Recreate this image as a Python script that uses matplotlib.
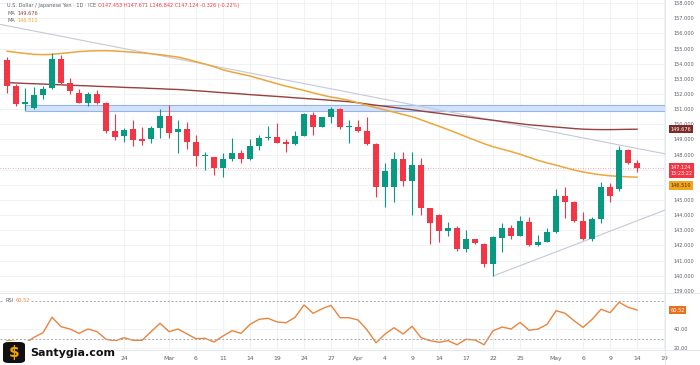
import numpy as np
import pandas as pd
import matplotlib
matplotlib.use("Agg")
import matplotlib.pyplot as plt
from matplotlib.patches import Rectangle, FancyBboxPatch

# daily USD/JPY candles, Feb 5 - May 14 2025 (weekdays)
dates = pd.bdate_range("2025-02-05", "2025-05-14")

opens = [154.25, 152.55, 151.35, 151.05, 151.92, 152.42, 154.31, 152.71, 152.09, 151.39,
         151.98, 151.39, 149.58, 149.25, 149.67, 149.03, 149.00, 149.78, 150.55, 149.47,
         149.67, 148.81, 147.93, 147.82, 147.09, 147.69, 148.12, 147.69, 148.59, 149.12,
         149.18, 148.83, 148.70, 149.25, 150.61, 149.84, 150.46, 151.01, 149.84, 149.84,
         149.58, 148.68, 145.88, 145.88, 147.69, 146.26, 147.31, 144.45, 144.00, 142.95,
         143.17, 141.74, 142.40, 142.09, 140.77, 142.51, 143.13, 142.64, 143.53, 142.03,
         142.25, 142.91, 145.26, 144.89, 143.63, 142.40, 143.74, 145.88, 145.71, 148.30,
         147.453]
highs = [154.45, 152.65, 152.40, 152.48, 152.50, 154.69, 154.58, 153.08, 152.31, 152.15,
         152.27, 151.45, 150.68, 149.75, 150.28, 149.84, 149.88, 151.01, 151.27, 150.28,
         150.13, 149.29, 148.19, 147.85, 148.08, 149.08, 148.30, 149.00, 149.29, 149.89,
         150.11, 149.05, 149.55, 150.77, 150.83, 150.50, 151.16, 151.05, 150.28, 150.28,
         150.46, 148.75, 147.42, 148.15, 148.15, 148.19, 147.80, 144.50, 144.05, 143.57,
         143.28, 143.02, 142.45, 142.15, 142.62, 143.50, 143.33, 143.96, 143.86, 142.69,
         143.17, 145.71, 145.88, 144.95, 144.23, 143.85, 146.21, 146.15, 148.57, 148.35,
         147.671]
lows = [152.10, 151.20, 150.95, 150.98, 151.65, 152.30, 152.65, 151.98, 151.40, 151.20,
        151.36, 149.41, 148.96, 148.85, 148.57, 148.63, 148.75, 149.11, 149.11, 148.12,
        148.39, 147.27, 146.98, 146.65, 146.54, 147.60, 147.42, 147.65, 148.30, 148.95,
        148.76, 148.19, 148.62, 149.20, 149.29, 149.80, 150.07, 149.67, 148.75, 149.50,
        148.65, 145.18, 144.56, 144.85, 145.92, 144.00, 144.00, 142.09, 142.25, 142.64,
        141.62, 141.60, 142.10, 140.60, 139.98, 141.59, 142.45, 142.60, 141.98, 141.95,
        142.20, 142.85, 143.79, 143.55, 142.35, 142.30, 143.46, 144.85, 145.60, 147.40,
        146.842]
closes = [152.55, 151.35, 151.45, 151.94, 152.33, 154.31, 152.71, 152.20, 151.43, 151.98,
          151.39, 149.56, 149.18, 149.62, 148.96, 148.92, 149.78, 150.55, 149.45, 149.67,
          148.81, 147.93, 147.97, 147.13, 147.69, 148.12, 147.69, 148.59, 149.08, 149.16,
          148.78, 148.72, 149.25, 150.66, 149.84, 150.46, 151.01, 149.80, 149.86, 149.58,
          148.68, 145.88, 146.92, 147.69, 146.26, 147.31, 144.45, 143.46, 142.95, 143.17,
          141.76, 142.40, 142.14, 140.77, 142.58, 143.13, 142.64, 143.61, 142.03, 142.25,
          142.91, 145.26, 144.89, 143.63, 142.40, 143.74, 145.84, 145.28, 148.30, 147.42,
          147.124]

ma_long = [152.75, 152.73, 152.70, 152.68, 152.66, 152.63, 152.61, 152.58, 152.56, 152.54,
           152.51, 152.49, 152.47, 152.44, 152.42, 152.40, 152.37, 152.35, 152.32, 152.30,
           152.26, 152.22, 152.18, 152.13, 152.09, 152.05, 152.01, 151.96, 151.92, 151.88,
           151.84, 151.80, 151.75, 151.71, 151.67, 151.63, 151.58, 151.54, 151.49, 151.42,
           151.34, 151.26, 151.19, 151.11, 151.03, 150.96, 150.88, 150.80, 150.73, 150.65,
           150.57, 150.50, 150.42, 150.34, 150.27, 150.19, 150.12, 150.04, 149.97, 149.92,
           149.87, 149.82, 149.77, 149.72, 149.68, 149.66, 149.65, 149.65, 149.66, 149.67,
           149.676]
ma_short = [154.83, 154.75, 154.68, 154.62, 154.60, 154.62, 154.68, 154.74, 154.80, 154.84,
            154.86, 154.86, 154.84, 154.80, 154.76, 154.72, 154.66, 154.60, 154.52, 154.44,
            154.30, 154.14, 153.98, 153.80, 153.60, 153.45, 153.32, 153.19, 153.02, 152.85,
            152.68, 152.52, 152.38, 152.23, 152.08, 151.93, 151.80, 151.70, 151.58, 151.42,
            151.25, 151.10, 150.95, 150.80, 150.65, 150.50, 150.30, 150.08, 149.87, 149.65,
            149.42, 149.18, 148.95, 148.72, 148.52, 148.36, 148.20, 148.02, 147.82, 147.62,
            147.45, 147.30, 147.14, 146.98, 146.85, 146.75, 146.66, 146.60, 146.56, 146.53,
            146.51]
rsi = [28.0, 27.0, 25.1, 31.5, 36.4, 52.8, 42.8, 40.3, 35.7, 40.3,
       37.5, 29.4, 27.6, 31.1, 28.3, 28.3, 37.5, 46.4, 37.5, 40.3,
       35.0, 30.0, 30.4, 26.5, 32.9, 38.5, 35.7, 45.3, 50.6, 51.7,
       47.8, 47.0, 52.8, 65.9, 57.0, 61.9, 65.5, 52.3, 52.3, 49.9,
       39.3, 25.7, 35.0, 41.7, 35.0, 43.2, 31.1, 27.9, 26.2, 27.9,
       23.6, 29.4, 28.6, 23.6, 38.5, 42.4, 40.3, 47.4, 38.9, 40.3,
       45.3, 59.8, 57.0, 49.1, 42.1, 50.6, 61.3, 57.7, 68.7, 63.4,
       60.52]

tick_dates = ["2025-02-24", "2025-03-03", "2025-03-06", "2025-03-11", "2025-03-14",
              "2025-03-19", "2025-03-24", "2025-03-27", "2025-04-01", "2025-04-04",
              "2025-04-09", "2025-04-14", "2025-04-17", "2025-04-22", "2025-04-25",
              "2025-05-01", "2025-05-06", "2025-05-09", "2025-05-14", "2025-05-19"]
tick_labels = ["24", "Mar", "6", "11", "14", "19", "24", "27", "Apr", "4",
               "9", "14", "17", "22", "25", "May", "6", "9", "14", "19"]
price_ticks = [139, 140, 141, 142, 143, 144, 145, 148, 149, 150, 151, 152, 153, 154,
               155, 156, 157, 158]
rsi_ticks = [20, 40]

# drawn objects on the chart
zone_start, zone_low, zone_high = "2025-02-07", 150.90, 151.27
down_trend_dates, down_trend_prices = ["2025-02-05", "2025-05-12"], [156.51, 148.64]
up_trend_dates, up_trend_prices = ["2025-04-22", "2025-05-14"], [139.98, 143.63]

UP, DOWN = "#089981", "#f23645"
MA1_C, MA2_C = "#97403e", "#eda63a"
RSI_C = "#e8843c"
GRID = "#f1f2f5"
TXT = "#5d606b"
FS = 3.6


def pos(d):
    return np.busday_count("2025-02-05", d)


x = np.arange(len(dates))
o, h, l, c = map(np.array, (opens, highs, lows, closes))

W, H = 700, 365
fig = plt.figure(figsize=(7, 3.65), dpi=100)
fig.patch.set_facecolor("white")

right = 665 / W
ax = fig.add_axes([0, 1 - 293 / H, right, 293 / H])
ax_r = fig.add_axes([0, 1 - 350 / H, right, 57 / H], sharex=ax)

xlim = (-0.78, 73.1)
ax.set_xlim(*xlim)
ax.set_ylim(138.86, 158.21)
ax_r.set_ylim(18.0, 78.6)

for a in (ax, ax_r):
    for s in a.spines.values():
        s.set_visible(False)
    a.tick_params(length=0)
    a.yaxis.tick_right()
    a.set_xticks([pos(d) for d in tick_dates])
    a.grid(True, color=GRID, lw=0.7)
    a.set_axisbelow(True)

# horizontal grid at every unit, labels only where tags don't cover them
for v in range(139, 159):
    ax.axhline(v, color=GRID, lw=0.7, zorder=0)
ax.yaxis.grid(False)
ax.set_yticks(price_ticks)
ax.set_yticklabels([f"{v:.3f}" for v in price_ticks], fontsize=FS, color=TXT)
ax.tick_params(axis="y", pad=6)
ax.tick_params(axis="x", labelbottom=False)

ax_r.set_yticks(rsi_ticks)
ax_r.set_yticklabels([f"{v:.2f}" for v in rsi_ticks], fontsize=FS, color=TXT)
ax_r.tick_params(axis="y", pad=6)
ax_r.set_xticklabels(tick_labels, fontsize=4.4, color=TXT)
ax_r.tick_params(axis="x", pad=4)

# blue zone
zx = pos(zone_start)
ax.add_patch(Rectangle((zx, zone_low), xlim[1] - zx, zone_high - zone_low,
                       facecolor="#d3e2f8", edgecolor="#93b6ea", lw=0.8, zorder=1))

# trend lines
p1 = (pos(down_trend_dates[0]), down_trend_prices[0])
p2 = (pos(down_trend_dates[1]), down_trend_prices[1])
ax.axline(p1, p2, color="#c5c9d6", lw=0.8, zorder=1)
u1, u2 = pos(up_trend_dates[0]), pos(up_trend_dates[1])
slope = (up_trend_prices[1] - up_trend_prices[0]) / (u2 - u1)
ax.plot([u1, xlim[1]], [up_trend_prices[0], up_trend_prices[0] + slope * (xlim[1] - u1)],
        color="#c5c9d6", lw=0.8, zorder=1)

# moving averages
ax.plot(x, ma_long, color=MA1_C, lw=1.0, zorder=2)
ax.plot(x, ma_short, color=MA2_C, lw=1.1, zorder=2)

# last price line
ax.axhline(closes[-1], color=DOWN, lw=0.6, ls=(0, (1, 2)), alpha=0.6, zorder=1)

# candles
cols = np.where(c >= o, UP, DOWN)
ax.vlines(x, l, h, colors=cols, lw=0.8, zorder=3)
body_lo = np.minimum(o, c)
body_h = np.maximum(np.abs(c - o), 0.07)
ax.bar(x, body_h, bottom=body_lo, width=0.62, color=cols, zorder=4)

# rsi
ax_r.plot(x, rsi, color=RSI_C, lw=1.0)
for lvl in (70, 30):
    ax_r.axhline(lvl, color="#a6a9b3", lw=0.7, ls=(0, (2, 2)))

# panel borders
fig.add_artist(plt.Line2D([right, right], [0, 1], color="#e0e3eb", lw=0.6))
fig.add_artist(plt.Line2D([0, 1], [1 - 293 / H] * 2, color="#e0e3eb", lw=0.6))
fig.add_artist(plt.Line2D([0, 1], [1 - 350 / H] * 2, color="#e0e3eb", lw=0.6))


# right-hand value tags
def tag(axis, yv, text, fc, tc="white", va="center"):
    axis.text(1.008, yv, text, transform=axis.get_yaxis_transform(), fontsize=FS,
              color=tc, va=va, ha="left", linespacing=1.35,
              bbox=dict(boxstyle="square,pad=0.35", fc=fc, ec="none"), zorder=10,
              clip_on=False)


tag(ax, ma_long[-1], f"{ma_long[-1]:.3f}", "#7e2b28")
tag(ax, closes[-1] + 0.22, f"{closes[-1]:.3f}\n15:23:22", DOWN, va="top")
tag(ax, ma_short[-1] - 0.55, f"{ma_short[-1]:.3f}", "#f2a51f", "#4a3000")
tag(ax_r, rsi[-1], f"{rsi[-1]:.2f}", "#e8711f")

# header legend
t = fig.text(7 / W, 1 - 6 / H, "U.S. Dollar / Japanese Yen · 1D · ICE ", fontsize=FS,
             color=TXT, va="center")
fig.canvas.draw()
bb = t.get_window_extent()
fig.text(bb.x1 / W, 1 - 6 / H,
         f"O{opens[-1]:.3f} H{highs[-1]:.3f} L{lows[-1]:.3f} C{closes[-1]:.3f} "
         f"-0.326 (-0.22%)", fontsize=FS, color=DOWN, va="center")
fig.text(7 / W, 1 - 13.5 / H, "MA", fontsize=FS, color=TXT, va="center")
fig.text(17 / W, 1 - 13.5 / H, f"{ma_long[-1]:.3f}", fontsize=FS, color=MA1_C, va="center")
fig.text(7 / W, 1 - 20.5 / H, "MA", fontsize=FS, color=TXT, va="center")
fig.text(17 / W, 1 - 20.5 / H, f"{ma_short[-1]:.3f}", fontsize=FS, color=MA2_C, va="center")

# rsi legend
fig.text(5 / W, 1 - 300 / H, "RSI", fontsize=FS, color=TXT, va="center",
         bbox=dict(boxstyle="square,pad=0.15", fc="white", ec="none"))
fig.text(16 / W, 1 - 300 / H, f"{rsi[-1]:.2f}", fontsize=FS, color=RSI_C, va="center",
         bbox=dict(boxstyle="square,pad=0.15", fc="white", ec="none"))

# watermark logo
fig.add_artist(Rectangle((0, 0), 116 / W, 24 / H, transform=fig.transFigure,
                         fc="white", ec="none", zorder=20))
fig.add_artist(FancyBboxPatch((3 / W, 2 / H), 22 / W, 21 / H, transform=fig.transFigure,
                              boxstyle="round,pad=0,rounding_size=0.008", fc="#111111",
                              ec="none", zorder=21))
fig.text(14.5 / W, 12.5 / H, "$", fontsize=11, fontweight="bold", color="#f5a300",
         ha="center", va="center", zorder=22)
fig.text(30 / W, 12.5 / H, "Santygia.com", fontsize=8.0, fontweight="bold", color="#111111",
         ha="left", va="center", zorder=22)

fig.savefig("out.png", dpi=100)
